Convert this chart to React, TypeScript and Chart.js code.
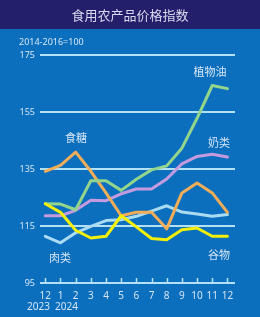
import React, { useEffect, useRef } from "react";
import { Chart, registerables } from "chart.js";
Chart.register(...registerables);

const months = ["12", "1", "2", "3", "4", "5", "6", "7", "8", "9", "10", "11", "12"];
const years = ["2023", "2024"];
const title = "食用农产品价格指数";
const baseNote = "2014-2016=100";

const vegOil = [122.8, 122.7, 120.7, 130.9, 130.9, 127.5, 131.4, 134.7, 136.1, 142.3, 152.8, 164.3, 163.2];
const dairy = [118.6, 118.6, 120.5, 124.0, 123.9, 126.3, 128.0, 128.0, 131.5, 136.8, 139.4, 140.2, 139.2];
const sugar = [134.2, 136.3, 140.9, 134.2, 126.6, 118.6, 119.8, 119.8, 114.0, 126.6, 130.1, 126.6, 119.8];
const meat = [111.4, 109.1, 112.6, 114.9, 116.9, 117.2, 118.4, 120.2, 122.1, 119.9, 119.2, 118.4, 119.0];
const cereals = [122.8, 119.8, 113.5, 110.8, 111.4, 118.6, 114.7, 110.6, 110.2, 113.7, 114.3, 111.4, 111.4];

const seriesNames = ["谷物", "植物油", "食糖", "奶类", "肉类"];
const seriesColors = ["#f3ef0a", "#93d58c", "#f2ad58", "#c59be0", "#a9dcf2"];

const BG = "#0b6fbd";
const BAND = "#241f6b";
const TEXT = "#d6e6f4";
const GRID = "#b4e0f6";

export default function App() {
  const ref = useRef<HTMLCanvasElement | null>(null);
  useEffect(() => {
    if (!ref.current) return;
    const seriesValues = [cereals, vegOil, sugar, dairy, meat];
    const cjk = '"Noto Sans CJK SC", "Noto Sans", sans-serif';
    const num = '"Noto Sans", sans-serif';
    const decor = {
      id: "decor",
      beforeDraw(chart: any) {
        const ctx = chart.ctx;
        ctx.save();
        ctx.fillStyle = BG;
        ctx.fillRect(0, 0, chart.width, chart.height);
        ctx.fillStyle = BAND;
        ctx.fillRect(0, 0, chart.width, 29);
        ctx.fillStyle = "#d9d8ee";
        ctx.font = `13px ${cjk}`;
        ctx.textAlign = "center";
        ctx.textBaseline = "middle";
        ctx.fillText(title, 130, 15);
        ctx.fillStyle = TEXT;
        ctx.font = `9px ${num}`;
        ctx.textAlign = "left";
        ctx.fillText(baseNote, 19, 42);
        ctx.restore();
      },
      afterDatasetsDraw(chart: any) {
        const ctx = chart.ctx;
        const xs = chart.scales.x;
        const ys = chart.scales.y;
        const yb = ys.getPixelForValue(95);
        ctx.save();
        ctx.strokeStyle = GRID;
        ctx.lineWidth = 1.5;
        months.forEach((_, i) => {
          const x = Math.round(xs.getPixelForValue(i)) + 0.5;
          ctx.beginPath();
          ctx.moveTo(x, yb - 5);
          ctx.lineTo(x, yb + 1);
          ctx.stroke();
        });
        ctx.fillStyle = TEXT;
        ctx.font = `10px ${num}`;
        ctx.textAlign = "left";
        ctx.textBaseline = "middle";
        ctx.fillText(years[0], 27, 307);
        ctx.fillText(years[1], 55, 307);
        ctx.font = `11px ${cjk}`;
        ctx.textAlign = "center";
        const labelPos: [number, number][] = [
          [219, 255],
          [210, 72],
          [76, 138],
          [219, 143],
          [60, 258],
        ];
        seriesNames.forEach((n, i) => {
          ctx.fillText(n, labelPos[i][0], labelPos[i][1]);
        });
        ctx.restore();
      },
    };
    const chart = new Chart(ref.current, {
      type: "line",
      data: {
        datasets: seriesValues.map((vals, i) => ({
          label: seriesNames[i],
          data: vals.map((v, j) => ({ x: j, y: v })),
          borderColor: seriesColors[i],
          borderWidth: 3,
          pointRadius: 0,
          tension: 0,
          fill: false,
          borderJoinStyle: "round" as const,
          borderCapStyle: "round" as const,
        })),
      },
      options: {
        responsive: false,
        animation: false,
        devicePixelRatio: 1,
        layout: { padding: { top: 55, right: 25, left: 0, bottom: 0 } },
        plugins: { legend: { display: false }, tooltip: { enabled: false }, title: { display: false } },
        scales: {
          x: {
            type: "linear",
            min: -0.35,
            max: 12.5,
            grid: { display: false, drawTicks: false },
            border: { display: false },
            ticks: {
              stepSize: 1,
              includeBounds: false,
              autoSkip: false,
              maxRotation: 0,
              padding: 7,
              color: TEXT,
              font: { family: num, size: 10 },
              callback: (v: any) => (Number.isInteger(v) && v >= 0 && v < months.length ? months[v] : ""),
            },
            afterFit: (s: any) => {
              s.height = 34;
            },
          },
          y: {
            min: 95,
            max: 175,
            grid: { color: GRID, lineWidth: 2, drawTicks: false },
            border: { display: false },
            ticks: {
              stepSize: 20,
              padding: 5,
              color: TEXT,
              font: { family: num, size: 9 },
            },
            afterFit: (s: any) => {
              s.width = 40;
            },
          },
        },
      },
      plugins: [decor],
    });
    return () => chart.destroy();
  }, []);
  return (
    <div style={{ position: "absolute", left: 0, top: 0, width: 260, height: 317 }}>
      <canvas ref={ref} width={260} height={317} style={{ display: "block" }} />
    </div>
  );
}
